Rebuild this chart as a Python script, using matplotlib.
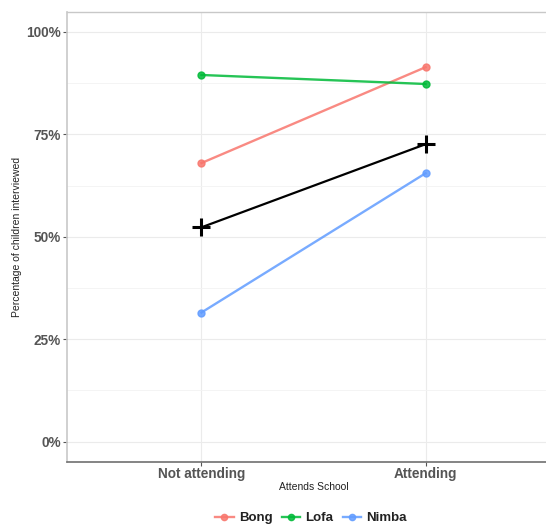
import matplotlib
matplotlib.use("Agg")
import matplotlib.pyplot as plt
from matplotlib.lines import Line2D
from matplotlib.ticker import MultipleLocator, FuncFormatter

categories = ["Not attending", "Attending"]
counties = ["Bong", "Lofa", "Nimba"]
bong = [0.680, 0.914]
lofa = [0.895, 0.873]
nimba = [0.315, 0.655]
mean_all = [0.523, 0.726]
colors = {"Bong": "#F8766D", "Lofa": "#00BA38", "Nimba": "#619CFF"}

plt.rcParams['font.family'] = ['Liberation Sans', 'DejaVu Sans']

fig = plt.figure(figsize=(5.46, 5.28), dpi=100)
ax = fig.add_axes([67/546, 1-462/528, (560-67)/546, (462-11.5)/528])

x = list(range(1, len(categories)+1))
for name, vals in zip(counties, [bong, lofa, nimba]):
    ax.plot(x, vals, color=colors[name], lw=1.7, marker='o', ms=5, zorder=3, alpha=0.85)
ax.plot(x, mean_all, color='black', lw=1.6, marker='+', ms=13, mew=2.2, zorder=4)

ax.set_xlim(0.4, 2.6)
ax.set_ylim(-0.05, 1.05)
ax.set_xticks(x)
ax.set_xticklabels(categories)
ax.yaxis.set_major_locator(MultipleLocator(0.25))
ax.yaxis.set_minor_locator(MultipleLocator(0.125))
ax.yaxis.set_major_formatter(FuncFormatter(lambda v, p: f"{v*100:.0f}%"))

ax.grid(True, which='major', color='#ebebeb', lw=0.8)
ax.grid(True, which='minor', axis='y', color='#f3f3f3', lw=0.6)
ax.set_axisbelow(True)

for s in ['top', 'right']:
    ax.spines[s].set_color('#c8c8c8')
    ax.spines[s].set_linewidth(1.0)
ax.spines['left'].set_color('#c8c8c8')
ax.spines['left'].set_linewidth(1.2)
ax.spines['bottom'].set_color('#707070')
ax.spines['bottom'].set_linewidth(1.2)

ax.tick_params(axis='both', which='major', length=3, color='#555555', width=0.8,
               labelcolor='#555555', labelsize=9.8)
ax.tick_params(axis='y', which='minor', length=0)
ax.tick_params(axis='y', pad=1.5)
ax.tick_params(axis='x', length=3, pad=0.5)
for lab in ax.get_xticklabels() + ax.get_yticklabels():
    lab.set_fontweight('bold')

ax.set_xlabel("Attends School", fontsize=7.5, color='#222222', labelpad=1)
ax.set_ylabel("Percentage of children interviewed", fontsize=7.5, color='#222222', labelpad=3)

handles = [Line2D([0], [0], color=colors[n], lw=1.7, marker='o', ms=4.5, alpha=0.85) for n in counties]
leg = fig.legend(handles, counties, loc='center', bbox_to_anchor=(311/546, 1-518/528), ncol=3,
                 frameon=False, handlelength=1.4, handletextpad=0.4, columnspacing=0.7,
                 prop={'weight': 'bold', 'size': 9.5})
for t in leg.get_texts():
    t.set_color('#222222')

fig.savefig("out.png", dpi=100)
